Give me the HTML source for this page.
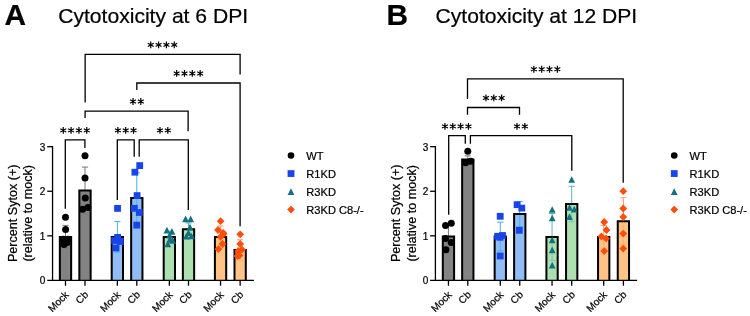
<!DOCTYPE html>
<html><head><meta charset="utf-8"><title>Cytotoxicity</title>
<style>
html,body{margin:0;padding:0;background:#fff;}
body{width:750px;height:316px;overflow:hidden;}
svg{display:block;font-family:"Liberation Sans", sans-serif;fill:#000;will-change:transform;transform:translateZ(0);}
text{stroke:#000;stroke-width:0.22px;}
</style></head><body>
<svg width="750" height="316" viewBox="0 0 750 316">
<rect width="750" height="316" fill="#fff"/>
<text x="4.5" y="25.2" font-size="29.8" font-weight="bold">A</text>
<text x="58.2" y="22.9" font-size="21.1">Cytotoxicity at 6 DPI</text>
<text transform="translate(16.55 213.3) rotate(-90)" font-size="12.6" text-anchor="middle">Percent Sytox (+)</text>
<text transform="translate(32.35 213.3) rotate(-90)" font-size="12.6" text-anchor="middle">(relative to mock)</text>
<path d="M65.50 225.40 V236.94 M62.40 225.40 H68.60" stroke="#787878" stroke-width="1.0" fill="none"/><path d="M59.85 280.40 V236.94 H71.15 V280.40" fill="#838383" stroke="#000" stroke-width="2.0" stroke-linejoin="miter"/><path d="M65.50 237.94 V248.49 M62.40 248.49 H68.60" stroke="#787878" stroke-width="1.0" fill="none" opacity="0.5"/>
<path d="M85.00 167.10 V190.44 M81.90 167.10 H88.10" stroke="#787878" stroke-width="1.0" fill="none"/><path d="M79.35 280.40 V190.44 H90.65 V280.40" fill="#838383" stroke="#000" stroke-width="2.0" stroke-linejoin="miter"/><path d="M85.00 191.44 V213.78 M81.90 213.78 H88.10" stroke="#787878" stroke-width="1.0" fill="none" opacity="0.5"/>
<path d="M117.35 221.62 V236.94 M114.25 221.62 H120.45" stroke="#48aee6" stroke-width="1.0" fill="none"/><path d="M111.70 280.40 V236.94 H123.00 V280.40" fill="#91bdf7" stroke="#000" stroke-width="2.0" stroke-linejoin="miter"/><path d="M117.35 237.94 V252.27 M114.25 252.27 H120.45" stroke="#48aee6" stroke-width="1.0" fill="none" opacity="0.9"/>
<path d="M136.80 172.89 V198.01 M133.70 172.89 H139.90" stroke="#48aee6" stroke-width="1.0" fill="none"/><path d="M131.15 280.40 V198.01 H142.45 V280.40" fill="#91bdf7" stroke="#000" stroke-width="2.0" stroke-linejoin="miter"/><path d="M136.80 199.01 V223.13 M133.70 223.13 H139.90" stroke="#48aee6" stroke-width="1.0" fill="none" opacity="0.9"/>
<path d="M169.35 231.05 V237.08 M166.25 231.05 H172.45" stroke="#5fb0bd" stroke-width="1.0" fill="none"/><path d="M163.70 280.40 V237.08 H175.00 V280.40" fill="#ade0af" stroke="#000" stroke-width="2.0" stroke-linejoin="miter"/><path d="M169.35 238.08 V243.11 M166.25 243.11 H172.45" stroke="#5fb0bd" stroke-width="1.0" fill="none" opacity="0.6"/>
<path d="M188.50 223.00 V229.16 M185.40 223.00 H191.60" stroke="#5fb0bd" stroke-width="1.0" fill="none"/><path d="M182.85 280.40 V229.16 H194.15 V280.40" fill="#ade0af" stroke="#000" stroke-width="2.0" stroke-linejoin="miter"/><path d="M188.50 230.16 V235.32 M185.40 235.32 H191.60" stroke="#5fb0bd" stroke-width="1.0" fill="none" opacity="0.6"/>
<path d="M220.55 226.02 V237.08 M217.45 226.02 H223.65" stroke="#ff9a6e" stroke-width="1.0" fill="none"/><path d="M214.90 280.40 V237.08 H226.20 V280.40" fill="#ffc385" stroke="#000" stroke-width="2.0" stroke-linejoin="miter"/><path d="M220.55 238.08 V248.14 M217.45 248.14 H223.65" stroke="#ff9a6e" stroke-width="1.0" fill="none" opacity="0.4"/>
<path d="M240.15 239.82 V250.07 M237.05 239.82 H243.25" stroke="#ff9a6e" stroke-width="1.0" fill="none"/><path d="M234.50 280.40 V250.07 H245.80 V280.40" fill="#ffc385" stroke="#000" stroke-width="2.0" stroke-linejoin="miter"/><path d="M240.15 251.07 V260.33 M237.05 260.33 H243.25" stroke="#ff9a6e" stroke-width="1.0" fill="none" opacity="0.4"/>
<path d="M52.55 146.04 V280.40 M47.25 280.40 H253.90" stroke="#000" stroke-width="1.3" fill="none"/>
<path d="M47.25 235.83 H52.55" stroke="#000" stroke-width="1.3"/>
<path d="M47.25 191.26 H52.55" stroke="#000" stroke-width="1.3"/>
<path d="M47.25 146.69 H52.55" stroke="#000" stroke-width="1.3"/>
<text x="45.35" y="284.30" font-size="10" text-anchor="end">0</text>
<text x="45.35" y="239.73" font-size="10" text-anchor="end">1</text>
<text x="45.35" y="195.16" font-size="10" text-anchor="end">2</text>
<text x="45.35" y="150.59" font-size="10" text-anchor="end">3</text>
<path d="M65.50 280.40 V285.70" stroke="#000" stroke-width="1.3"/>
<text transform="translate(69.40 295.40) rotate(-45)" font-size="10.1" text-anchor="end">Mock</text>
<path d="M85.00 280.40 V285.70" stroke="#000" stroke-width="1.3"/>
<text transform="translate(88.90 295.40) rotate(-45)" font-size="10.1" text-anchor="end">Cb</text>
<path d="M117.35 280.40 V285.70" stroke="#000" stroke-width="1.3"/>
<text transform="translate(121.25 295.40) rotate(-45)" font-size="10.1" text-anchor="end">Mock</text>
<path d="M136.80 280.40 V285.70" stroke="#000" stroke-width="1.3"/>
<text transform="translate(140.70 295.40) rotate(-45)" font-size="10.1" text-anchor="end">Cb</text>
<path d="M169.35 280.40 V285.70" stroke="#000" stroke-width="1.3"/>
<text transform="translate(173.25 295.40) rotate(-45)" font-size="10.1" text-anchor="end">Mock</text>
<path d="M188.50 280.40 V285.70" stroke="#000" stroke-width="1.3"/>
<text transform="translate(192.40 295.40) rotate(-45)" font-size="10.1" text-anchor="end">Cb</text>
<path d="M220.55 280.40 V285.70" stroke="#000" stroke-width="1.3"/>
<text transform="translate(224.45 295.40) rotate(-45)" font-size="10.1" text-anchor="end">Mock</text>
<path d="M240.15 280.40 V285.70" stroke="#000" stroke-width="1.3"/>
<text transform="translate(244.05 295.40) rotate(-45)" font-size="10.1" text-anchor="end">Cb</text>
<circle cx="65.50" cy="217.30" r="3.5" fill="#000000"/>
<circle cx="65.60" cy="229.40" r="3.5" fill="#000000"/>
<circle cx="63.10" cy="239.20" r="3.5" fill="#000000"/>
<circle cx="68.00" cy="239.30" r="3.5" fill="#000000"/>
<circle cx="64.00" cy="244.40" r="3.5" fill="#000000"/>
<circle cx="67.10" cy="242.40" r="3.5" fill="#000000"/>
<circle cx="85.00" cy="155.70" r="3.5" fill="#000000"/>
<circle cx="85.00" cy="178.00" r="3.5" fill="#000000"/>
<circle cx="85.30" cy="197.90" r="3.5" fill="#000000"/>
<circle cx="87.80" cy="207.40" r="3.5" fill="#000000"/>
<circle cx="82.50" cy="209.30" r="3.5" fill="#000000"/>
<rect x="114.15" y="205.00" width="6.8" height="6.8" fill="#1745ea"/>
<rect x="114.20" y="234.00" width="6.8" height="6.8" fill="#1745ea"/>
<rect x="111.20" y="237.10" width="6.8" height="6.8" fill="#1745ea"/>
<rect x="116.95" y="238.10" width="6.8" height="6.8" fill="#1745ea"/>
<rect x="112.60" y="244.60" width="6.8" height="6.8" fill="#1745ea"/>
<rect x="136.30" y="162.20" width="6.8" height="6.8" fill="#1745ea"/>
<rect x="131.50" y="168.80" width="6.8" height="6.8" fill="#1745ea"/>
<rect x="133.70" y="192.20" width="6.8" height="6.8" fill="#1745ea"/>
<rect x="130.90" y="204.90" width="6.8" height="6.8" fill="#1745ea"/>
<rect x="135.90" y="209.10" width="6.8" height="6.8" fill="#1745ea"/>
<rect x="133.40" y="221.70" width="6.8" height="6.8" fill="#1745ea"/>
<path d="M166.95 226.75 L170.35 233.45 L163.55 233.45Z" fill="#12707f"/>
<path d="M171.95 228.05 L175.35 234.75 L168.55 234.75Z" fill="#12707f"/>
<path d="M169.55 231.85 L172.95 238.55 L166.15 238.55Z" fill="#12707f"/>
<path d="M169.85 236.05 L173.25 242.75 L166.45 242.75Z" fill="#12707f"/>
<path d="M172.65 236.95 L176.05 243.65 L169.25 243.65Z" fill="#12707f"/>
<path d="M167.75 240.65 L171.15 247.35 L164.35 247.35Z" fill="#12707f"/>
<path d="M185.60 215.55 L189.00 222.25 L182.20 222.25Z" fill="#12707f"/>
<path d="M190.70 215.55 L194.10 222.25 L187.30 222.25Z" fill="#12707f"/>
<path d="M190.00 223.75 L193.40 230.45 L186.60 230.45Z" fill="#12707f"/>
<path d="M188.50 229.25 L191.90 235.95 L185.10 235.95Z" fill="#12707f"/>
<path d="M186.30 232.75 L189.70 239.45 L182.90 239.45Z" fill="#12707f"/>
<path d="M191.50 232.65 L194.90 239.35 L188.10 239.35Z" fill="#12707f"/>
<path d="M220.60 217.30 L224.50 221.20 L220.60 225.10 L216.70 221.20Z" fill="#ff4d0a"/>
<path d="M218.00 226.10 L221.90 230.00 L218.00 233.90 L214.10 230.00Z" fill="#ff4d0a"/>
<path d="M223.10 228.90 L227.00 232.80 L223.10 236.70 L219.20 232.80Z" fill="#ff4d0a"/>
<path d="M220.60 232.90 L224.50 236.80 L220.60 240.70 L216.70 236.80Z" fill="#ff4d0a"/>
<path d="M223.70 230.00 L227.60 233.90 L223.70 237.80 L219.80 233.90Z" fill="#ff4d0a"/>
<path d="M222.50 240.10 L226.40 244.00 L222.50 247.90 L218.60 244.00Z" fill="#ff4d0a"/>
<path d="M218.40 245.20 L222.30 249.10 L218.40 253.00 L214.50 249.10Z" fill="#ff4d0a"/>
<path d="M240.20 230.40 L244.10 234.30 L240.20 238.20 L236.30 234.30Z" fill="#ff4d0a"/>
<path d="M240.20 240.10 L244.10 244.00 L240.20 247.90 L236.30 244.00Z" fill="#ff4d0a"/>
<path d="M242.10 245.80 L246.00 249.70 L242.10 253.60 L238.20 249.70Z" fill="#ff4d0a"/>
<path d="M238.30 247.10 L242.20 251.00 L238.30 254.90 L234.40 251.00Z" fill="#ff4d0a"/>
<path d="M239.50 251.50 L243.40 255.40 L239.50 259.30 L235.60 255.40Z" fill="#ff4d0a"/>
<path d="M237.40 252.10 L241.30 256.00 L237.40 259.90 L233.50 256.00Z" fill="#ff4d0a"/>
<path d="M85.15 102.50 V54.45 H240.10 V74.40" stroke="#000" stroke-width="1.3" fill="none"/>
<path d="M136.80 90.00 V83.00 H240.10 V226.30" stroke="#000" stroke-width="1.3" fill="none"/>
<path d="M85.10 118.00 V111.20 H188.10 V131.20" stroke="#000" stroke-width="1.3" fill="none"/>
<path d="M65.30 208.70 V139.90 H84.90 V148.00" stroke="#000" stroke-width="1.3" fill="none"/>
<path d="M117.30 199.90 V139.90 H134.20 V156.70" stroke="#000" stroke-width="1.3" fill="none"/>
<path d="M139.20 156.70 V139.90 H188.30 V210.00" stroke="#000" stroke-width="1.3" fill="none"/>
<path d="M150.75 41.50V48.30M147.81 43.20L153.70 46.60M147.81 46.60L153.70 43.20M158.59 41.50V48.30M155.64 43.20L161.53 46.60M155.64 46.60L161.53 43.20M166.41 41.50V48.30M163.47 43.20L169.36 46.60M163.47 46.60L169.36 43.20M174.25 41.50V48.30M171.30 43.20L177.19 46.60M171.30 46.60L177.19 43.20" stroke="#000" stroke-width="1.2" fill="none"/><circle cx="150.75" cy="44.90" r="1.05"/><circle cx="158.59" cy="44.90" r="1.05"/><circle cx="166.41" cy="44.90" r="1.05"/><circle cx="174.25" cy="44.90" r="1.05"/>
<path d="M176.66 70.05V76.85M173.71 71.75L179.60 75.15M173.71 75.15L179.60 71.75M184.49 70.05V76.85M181.54 71.75L187.43 75.15M181.54 75.15L187.43 71.75M192.31 70.05V76.85M189.37 71.75L195.26 75.15M189.37 75.15L195.26 71.75M200.15 70.05V76.85M197.20 71.75L203.09 75.15M197.20 75.15L203.09 71.75" stroke="#000" stroke-width="1.2" fill="none"/><circle cx="176.66" cy="73.45" r="1.05"/><circle cx="184.49" cy="73.45" r="1.05"/><circle cx="192.31" cy="73.45" r="1.05"/><circle cx="200.15" cy="73.45" r="1.05"/>
<path d="M132.99 98.10V104.90M130.04 99.80L135.93 103.20M130.04 103.20L135.93 99.80M140.81 98.10V104.90M137.87 99.80L143.76 103.20M137.87 103.20L143.76 99.80" stroke="#000" stroke-width="1.2" fill="none"/><circle cx="132.99" cy="101.50" r="1.05"/><circle cx="140.81" cy="101.50" r="1.05"/>
<path d="M63.25 126.95V133.75M60.31 128.65L66.20 132.05M60.31 132.05L66.20 128.65M71.08 126.95V133.75M68.14 128.65L74.03 132.05M68.14 132.05L74.03 128.65M78.92 126.95V133.75M75.97 128.65L81.86 132.05M75.97 132.05L81.86 128.65M86.75 126.95V133.75M83.80 128.65L89.69 132.05M83.80 132.05L89.69 128.65" stroke="#000" stroke-width="1.2" fill="none"/><circle cx="63.25" cy="130.35" r="1.05"/><circle cx="71.08" cy="130.35" r="1.05"/><circle cx="78.92" cy="130.35" r="1.05"/><circle cx="86.75" cy="130.35" r="1.05"/>
<path d="M117.87 126.95V133.75M114.93 128.65L120.81 132.05M114.93 132.05L120.81 128.65M125.70 126.95V133.75M122.76 128.65L128.64 132.05M122.76 132.05L128.64 128.65M133.53 126.95V133.75M130.59 128.65L136.47 132.05M130.59 132.05L136.47 128.65" stroke="#000" stroke-width="1.2" fill="none"/><circle cx="117.87" cy="130.35" r="1.05"/><circle cx="125.70" cy="130.35" r="1.05"/><circle cx="133.53" cy="130.35" r="1.05"/>
<path d="M159.99 126.95V133.75M157.04 128.65L162.93 132.05M157.04 132.05L162.93 128.65M167.81 126.95V133.75M164.87 128.65L170.76 132.05M164.87 132.05L170.76 128.65" stroke="#000" stroke-width="1.2" fill="none"/><circle cx="159.99" cy="130.35" r="1.05"/><circle cx="167.81" cy="130.35" r="1.05"/>
<circle cx="291.00" cy="155.55" r="3.3" fill="#000000"/>
<text x="306.30" y="159.95" font-size="11.1">WT</text>
<rect x="287.60" y="170.15" width="6.8" height="6.8" fill="#1745ea"/>
<text x="306.30" y="177.95" font-size="11.1">R1KD</text>
<path d="M291.00 188.20 L294.40 194.90 L287.60 194.90Z" fill="#12707f"/>
<text x="306.30" y="195.95" font-size="11.1">R3KD</text>
<path d="M291.00 205.65 L294.90 209.55 L291.00 213.45 L287.10 209.55Z" fill="#ff4d0a"/>
<text x="306.30" y="213.95" font-size="11.1">R3KD C8-/-</text>
<text x="386.5" y="25.2" font-size="29.8" font-weight="bold">B</text>
<text x="435.6" y="22.9" font-size="21.1">Cytotoxicity at 12 DPI</text>
<text transform="translate(400.30 213.3) rotate(-90)" font-size="12.6" text-anchor="middle">Percent Sytox (+)</text>
<text transform="translate(416.10 213.3) rotate(-90)" font-size="12.6" text-anchor="middle">(relative to mock)</text>
<path d="M448.45 225.40 V236.50 M445.35 225.40 H451.55" stroke="#787878" stroke-width="1.0" fill="none"/><path d="M442.80 280.40 V236.50 H454.10 V280.40" fill="#838383" stroke="#000" stroke-width="2.0" stroke-linejoin="miter"/><path d="M448.45 237.50 V247.60 M445.35 247.60 H451.55" stroke="#787878" stroke-width="1.0" fill="none" opacity="0.5"/>
<path d="M467.80 155.84 V159.51 M464.70 155.84 H470.90" stroke="#787878" stroke-width="1.0" fill="none"/><path d="M462.15 280.40 V159.51 H473.45 V280.40" fill="#838383" stroke="#000" stroke-width="2.0" stroke-linejoin="miter"/><path d="M467.80 160.51 V163.18 M464.70 163.18 H470.90" stroke="#787878" stroke-width="1.0" fill="none" opacity="0.5"/>
<path d="M500.30 222.11 V236.50 M497.20 222.11 H503.40" stroke="#48aee6" stroke-width="1.0" fill="none"/><path d="M494.65 280.40 V236.50 H505.95 V280.40" fill="#91bdf7" stroke="#000" stroke-width="2.0" stroke-linejoin="miter"/><path d="M500.30 237.50 V250.89 M497.20 250.89 H503.40" stroke="#48aee6" stroke-width="1.0" fill="none" opacity="0.9"/>
<path d="M519.75 201.59 V214.12 M516.65 201.59 H522.85" stroke="#48aee6" stroke-width="1.0" fill="none"/><path d="M514.10 280.40 V214.12 H525.40 V280.40" fill="#91bdf7" stroke="#000" stroke-width="2.0" stroke-linejoin="miter"/><path d="M519.75 215.12 V226.64 M516.65 226.64 H522.85" stroke="#48aee6" stroke-width="1.0" fill="none" opacity="0.9"/>
<path d="M552.05 213.52 V236.94 M548.95 213.52 H555.15" stroke="#5fb0bd" stroke-width="1.0" fill="none"/><path d="M546.40 280.40 V236.94 H557.70 V280.40" fill="#ade0af" stroke="#000" stroke-width="2.0" stroke-linejoin="miter"/><path d="M552.05 237.94 V260.37 M548.95 260.37 H555.15" stroke="#5fb0bd" stroke-width="1.0" fill="none" opacity="0.6"/>
<path d="M571.70 186.28 V204.01 M568.60 186.28 H574.80" stroke="#5fb0bd" stroke-width="1.0" fill="none"/><path d="M566.05 280.40 V204.01 H577.35 V280.40" fill="#ade0af" stroke="#000" stroke-width="2.0" stroke-linejoin="miter"/><path d="M571.70 205.01 V221.75 M568.60 221.75 H574.80" stroke="#5fb0bd" stroke-width="1.0" fill="none" opacity="0.6"/>
<path d="M603.70 225.49 V237.08 M600.60 225.49 H606.80" stroke="#ff9a6e" stroke-width="1.0" fill="none"/><path d="M598.05 280.40 V237.08 H609.35 V280.40" fill="#ffc385" stroke="#000" stroke-width="2.0" stroke-linejoin="miter"/><path d="M603.70 238.08 V248.67 M600.60 248.67 H606.80" stroke="#ff9a6e" stroke-width="1.0" fill="none" opacity="0.4"/>
<path d="M623.40 197.72 V221.19 M620.30 197.72 H626.50" stroke="#ff9a6e" stroke-width="1.0" fill="none"/><path d="M617.75 280.40 V221.19 H629.05 V280.40" fill="#ffc385" stroke="#000" stroke-width="2.0" stroke-linejoin="miter"/><path d="M623.40 222.19 V244.66 M620.30 244.66 H626.50" stroke="#ff9a6e" stroke-width="1.0" fill="none" opacity="0.4"/>
<path d="M435.40 146.04 V280.40 M430.10 280.40 H637.15" stroke="#000" stroke-width="1.3" fill="none"/>
<path d="M430.10 235.83 H435.40" stroke="#000" stroke-width="1.3"/>
<path d="M430.10 191.26 H435.40" stroke="#000" stroke-width="1.3"/>
<path d="M430.10 146.69 H435.40" stroke="#000" stroke-width="1.3"/>
<text x="428.20" y="284.30" font-size="10" text-anchor="end">0</text>
<text x="428.20" y="239.73" font-size="10" text-anchor="end">1</text>
<text x="428.20" y="195.16" font-size="10" text-anchor="end">2</text>
<text x="428.20" y="150.59" font-size="10" text-anchor="end">3</text>
<path d="M448.45 280.40 V285.70" stroke="#000" stroke-width="1.3"/>
<text transform="translate(452.35 295.40) rotate(-45)" font-size="10.1" text-anchor="end">Mock</text>
<path d="M467.80 280.40 V285.70" stroke="#000" stroke-width="1.3"/>
<text transform="translate(471.70 295.40) rotate(-45)" font-size="10.1" text-anchor="end">Cb</text>
<path d="M500.30 280.40 V285.70" stroke="#000" stroke-width="1.3"/>
<text transform="translate(504.20 295.40) rotate(-45)" font-size="10.1" text-anchor="end">Mock</text>
<path d="M519.75 280.40 V285.70" stroke="#000" stroke-width="1.3"/>
<text transform="translate(523.65 295.40) rotate(-45)" font-size="10.1" text-anchor="end">Cb</text>
<path d="M552.05 280.40 V285.70" stroke="#000" stroke-width="1.3"/>
<text transform="translate(555.95 295.40) rotate(-45)" font-size="10.1" text-anchor="end">Mock</text>
<path d="M571.70 280.40 V285.70" stroke="#000" stroke-width="1.3"/>
<text transform="translate(575.60 295.40) rotate(-45)" font-size="10.1" text-anchor="end">Cb</text>
<path d="M603.70 280.40 V285.70" stroke="#000" stroke-width="1.3"/>
<text transform="translate(607.60 295.40) rotate(-45)" font-size="10.1" text-anchor="end">Mock</text>
<path d="M623.40 280.40 V285.70" stroke="#000" stroke-width="1.3"/>
<text transform="translate(627.30 295.40) rotate(-45)" font-size="10.1" text-anchor="end">Cb</text>
<circle cx="445.55" cy="225.50" r="3.5" fill="#000000"/>
<circle cx="451.25" cy="223.20" r="3.5" fill="#000000"/>
<circle cx="445.55" cy="238.50" r="3.5" fill="#000000"/>
<circle cx="451.25" cy="242.60" r="3.5" fill="#000000"/>
<circle cx="445.95" cy="249.70" r="3.5" fill="#000000"/>
<circle cx="467.80" cy="151.30" r="3.5" fill="#000000"/>
<circle cx="465.60" cy="162.80" r="3.5" fill="#000000"/>
<circle cx="470.70" cy="161.30" r="3.5" fill="#000000"/>
<rect x="496.80" y="212.90" width="6.8" height="6.8" fill="#1745ea"/>
<rect x="494.20" y="232.90" width="6.8" height="6.8" fill="#1745ea"/>
<rect x="499.10" y="232.10" width="6.8" height="6.8" fill="#1745ea"/>
<rect x="496.60" y="233.90" width="6.8" height="6.8" fill="#1745ea"/>
<rect x="496.80" y="252.60" width="6.8" height="6.8" fill="#1745ea"/>
<rect x="513.70" y="201.30" width="6.8" height="6.8" fill="#1745ea"/>
<rect x="518.40" y="204.70" width="6.8" height="6.8" fill="#1745ea"/>
<rect x="515.90" y="226.90" width="6.8" height="6.8" fill="#1745ea"/>
<path d="M552.20 206.15 L555.60 212.85 L548.80 212.85Z" fill="#12707f"/>
<path d="M552.20 214.65 L555.60 221.35 L548.80 221.35Z" fill="#12707f"/>
<path d="M552.20 236.55 L555.60 243.25 L548.80 243.25Z" fill="#12707f"/>
<path d="M552.20 246.45 L555.60 253.15 L548.80 253.15Z" fill="#12707f"/>
<path d="M552.20 261.85 L555.60 268.55 L548.80 268.55Z" fill="#12707f"/>
<path d="M571.70 176.15 L575.10 182.85 L568.30 182.85Z" fill="#12707f"/>
<path d="M569.50 204.15 L572.90 210.85 L566.10 210.85Z" fill="#12707f"/>
<path d="M574.30 205.85 L577.70 212.55 L570.90 212.55Z" fill="#12707f"/>
<path d="M569.50 213.35 L572.90 220.05 L566.10 220.05Z" fill="#12707f"/>
<path d="M604.20 218.10 L608.10 222.00 L604.20 225.90 L600.30 222.00Z" fill="#ff4d0a"/>
<path d="M606.50 226.10 L610.40 230.00 L606.50 233.90 L602.60 230.00Z" fill="#ff4d0a"/>
<path d="M601.40 232.50 L605.30 236.40 L601.40 240.30 L597.50 236.40Z" fill="#ff4d0a"/>
<path d="M606.10 234.50 L610.00 238.40 L606.10 242.30 L602.20 238.40Z" fill="#ff4d0a"/>
<path d="M604.20 247.20 L608.10 251.10 L604.20 255.00 L600.30 251.10Z" fill="#ff4d0a"/>
<path d="M623.25 187.30 L627.15 191.20 L623.25 195.10 L619.35 191.20Z" fill="#ff4d0a"/>
<path d="M623.25 204.60 L627.15 208.50 L623.25 212.40 L619.35 208.50Z" fill="#ff4d0a"/>
<path d="M623.25 213.10 L627.15 217.00 L623.25 220.90 L619.35 217.00Z" fill="#ff4d0a"/>
<path d="M623.25 229.70 L627.15 233.60 L623.25 237.50 L619.35 233.60Z" fill="#ff4d0a"/>
<path d="M623.25 244.70 L627.15 248.60 L623.25 252.50 L619.35 248.60Z" fill="#ff4d0a"/>
<path d="M467.50 98.90 V78.80 H623.20 V182.80" stroke="#000" stroke-width="1.3" fill="none"/>
<path d="M467.50 114.80 V107.50 H519.50 V114.80" stroke="#000" stroke-width="1.3" fill="none"/>
<path d="M448.70 214.80 V135.70 H465.30 V143.70" stroke="#000" stroke-width="1.3" fill="none"/>
<path d="M470.40 143.70 V135.70 H571.80 V170.70" stroke="#000" stroke-width="1.3" fill="none"/>
<path d="M533.86 65.85V72.65M530.91 67.55L536.80 70.95M530.91 70.95L536.80 67.55M541.69 65.85V72.65M538.74 67.55L544.63 70.95M538.74 70.95L544.63 67.55M549.51 65.85V72.65M546.57 67.55L552.46 70.95M546.57 70.95L552.46 67.55M557.35 65.85V72.65M554.40 67.55L560.29 70.95M554.40 70.95L560.29 67.55" stroke="#000" stroke-width="1.2" fill="none"/><circle cx="533.86" cy="69.25" r="1.05"/><circle cx="541.69" cy="69.25" r="1.05"/><circle cx="549.51" cy="69.25" r="1.05"/><circle cx="557.35" cy="69.25" r="1.05"/>
<path d="M485.97 94.55V101.35M483.03 96.25L488.91 99.65M483.03 99.65L488.91 96.25M493.80 94.55V101.35M490.86 96.25L496.74 99.65M490.86 99.65L496.74 96.25M501.63 94.55V101.35M498.69 96.25L504.57 99.65M498.69 99.65L504.57 96.25" stroke="#000" stroke-width="1.2" fill="none"/><circle cx="485.97" cy="97.95" r="1.05"/><circle cx="493.80" cy="97.95" r="1.05"/><circle cx="501.63" cy="97.95" r="1.05"/>
<path d="M444.95 122.95V129.75M442.01 124.65L447.90 128.05M442.01 128.05L447.90 124.65M452.78 122.95V129.75M449.84 124.65L455.73 128.05M449.84 128.05L455.73 124.65M460.62 122.95V129.75M457.67 124.65L463.56 128.05M457.67 128.05L463.56 124.65M468.44 122.95V129.75M465.50 124.65L471.39 128.05M465.50 128.05L471.39 124.65" stroke="#000" stroke-width="1.2" fill="none"/><circle cx="444.95" cy="126.35" r="1.05"/><circle cx="452.78" cy="126.35" r="1.05"/><circle cx="460.62" cy="126.35" r="1.05"/><circle cx="468.44" cy="126.35" r="1.05"/>
<path d="M516.99 122.95V129.75M514.04 124.65L519.93 128.05M514.04 128.05L519.93 124.65M524.81 122.95V129.75M521.87 124.65L527.76 128.05M521.87 128.05L527.76 124.65" stroke="#000" stroke-width="1.2" fill="none"/><circle cx="516.99" cy="126.35" r="1.05"/><circle cx="524.81" cy="126.35" r="1.05"/>
<circle cx="674.25" cy="155.55" r="3.3" fill="#000000"/>
<text x="689.55" y="159.95" font-size="11.1">WT</text>
<rect x="670.85" y="170.15" width="6.8" height="6.8" fill="#1745ea"/>
<text x="689.55" y="177.95" font-size="11.1">R1KD</text>
<path d="M674.25 188.20 L677.65 194.90 L670.85 194.90Z" fill="#12707f"/>
<text x="689.55" y="195.95" font-size="11.1">R3KD</text>
<path d="M674.25 205.65 L678.15 209.55 L674.25 213.45 L670.35 209.55Z" fill="#ff4d0a"/>
<text x="689.55" y="213.95" font-size="11.1">R3KD C8-/-</text>
</svg>
</body></html>
